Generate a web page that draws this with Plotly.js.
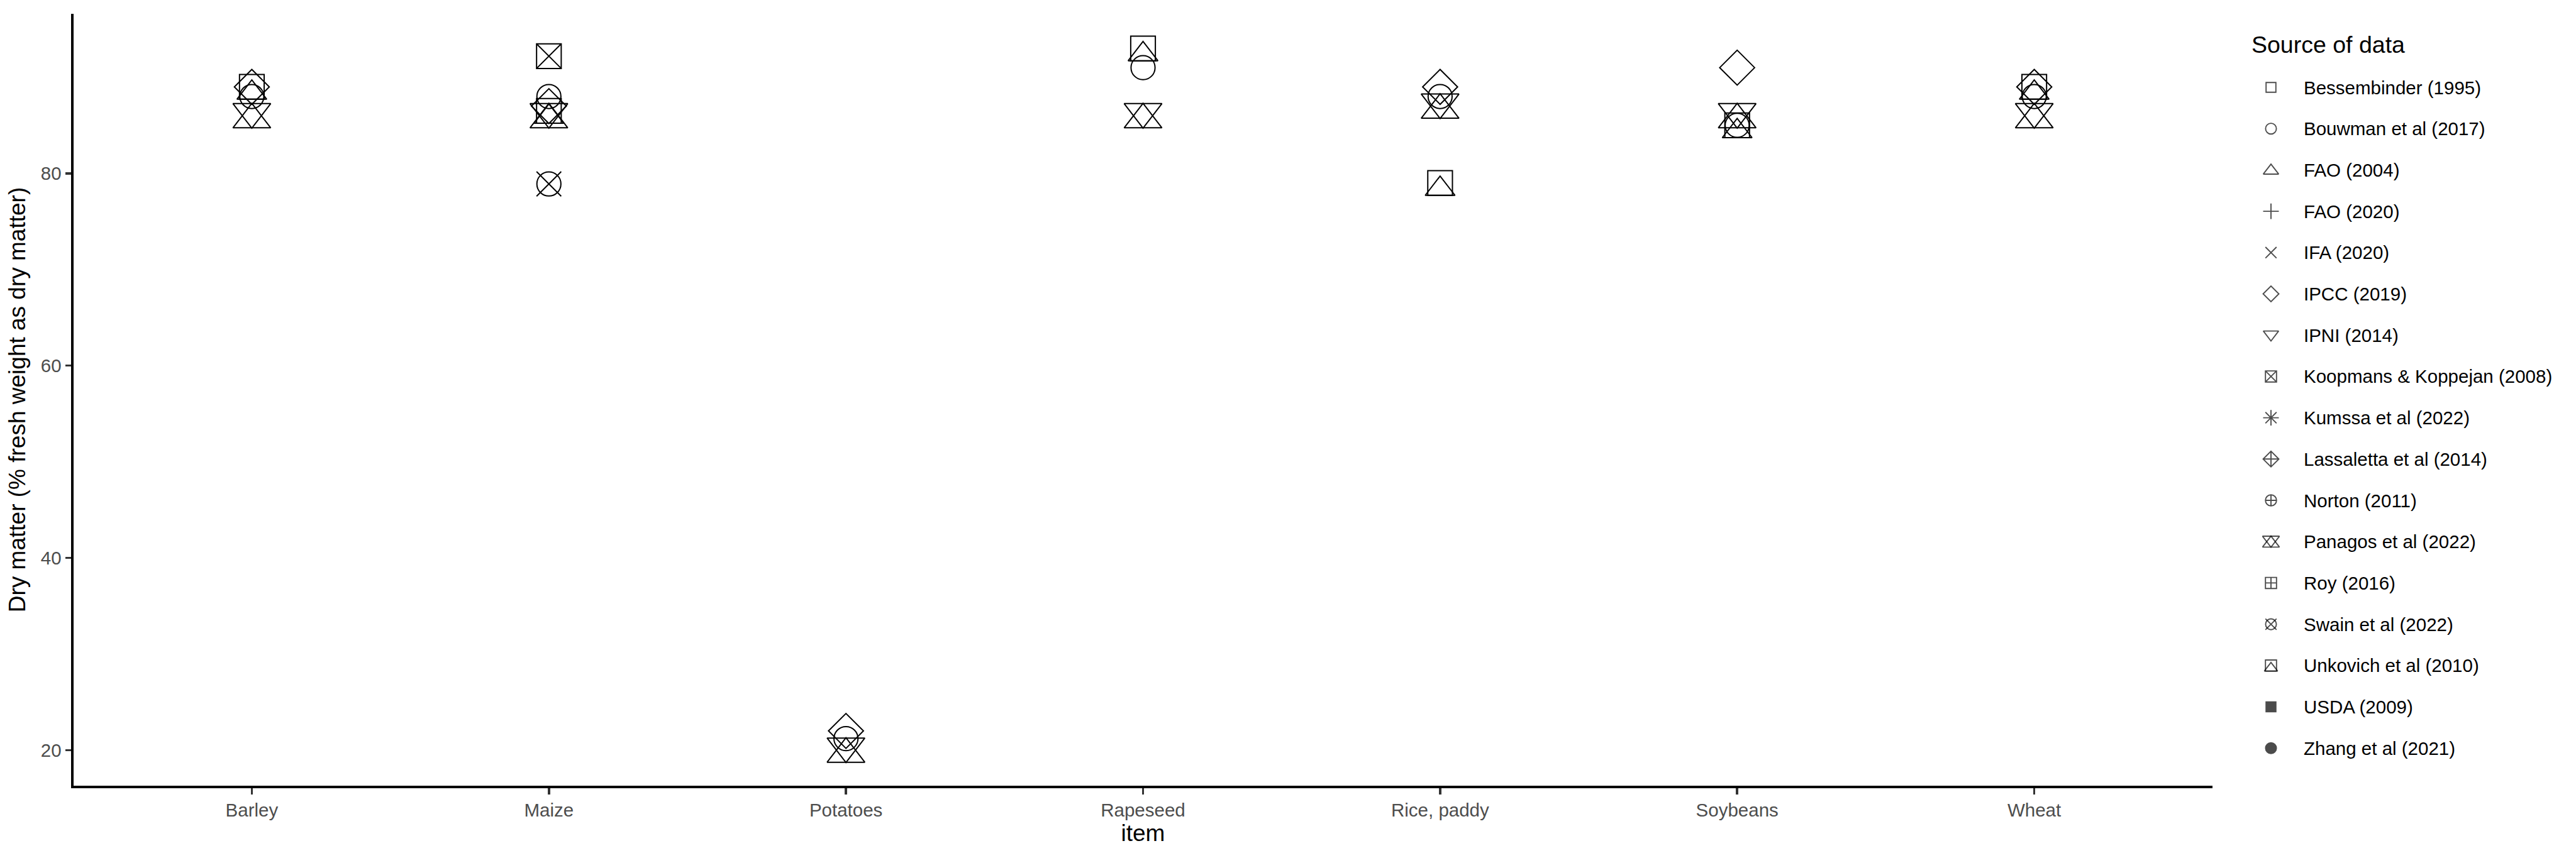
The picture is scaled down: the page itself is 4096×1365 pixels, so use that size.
<!DOCTYPE html>
<html>
<head>
<meta charset="utf-8">
<script src="https://cdn.plot.ly/plotly-3.0.1.min.js"></script>
<style>html,body{margin:0;padding:0;background:#fff;}#chart{width:4096px;height:1365px;}</style>
</head>
<body>
<div id="chart"></div>
<script>
// ---- data ----
const categories = ["Barley", "Maize", "Potatoes", "Rapeseed", "Rice, paddy", "Soybeans", "Wheat"];
const sources = ["Bessembinder (1995)", "Bouwman et al (2017)", "FAO (2004)", "FAO (2020)", "IFA (2020)",
  "IPCC (2019)", "IPNI (2014)", "Koopmans & Koppejan (2008)", "Kumssa et al (2022)", "Lassaletta et al (2014)",
  "Norton (2011)", "Panagos et al (2022)", "Roy (2016)", "Swain et al (2022)", "Unkovich et al (2010)",
  "USDA (2009)", "Zhang et al (2021)"];
const bouwman  = [88, 88, 21.2, 91, 88, 85, 88];
const ipcc     = [89, 87, 22, null, 89, 91, 89];
const panagos  = [86, 86, 20, 86, 87, 86, 86];
const unkovich = [89, 86.5, null, 93, 79, 85, 89];
const koopmans = [null, 92.2, null, null, null, null, null];
const swain    = [null, 78.9, null, null, null, null, null];
const yTicks = [20, 40, 60, 80];

const seriesValues = {
  "Bouwman et al (2017)": bouwman,
  "IPCC (2019)": ipcc,
  "Koopmans & Koppejan (2008)": koopmans,
  "Panagos et al (2022)": panagos,
  "Swain et al (2022)": swain,
  "Unkovich et al (2010)": unkovich
};

// ---- shapes (ggplot shape index = position in sources) ----
const shapeLayers = [
  [{s: 'square-open', z: 1.772}],
  [{s: 'circle-open', z: 1.95}],
  [{s: 'triangle-up-open', z: 2.4, o: 0.142}],
  [{s: 'cross-thin-open', z: 2.02}],
  [{s: 'x-thin-open', z: 2}],
  [{s: 'diamond-open', z: 2.18}],
  [{s: 'triangle-up-open', z: 2.4, o: 0.142, a: 180}],
  [{s: 'square-x-open', z: 2}],
  [{s: 'asterisk-open', z: 2.36}],
  [{s: 'diamond-cross-open', z: 2.18}],
  [{s: 'circle-cross-open', z: 2}],
  [{s: 'triangle-up-open', z: 2.65, o: 0.32}, {s: 'triangle-up-open', z: 2.65, o: 0.32, a: 180}],
  [{s: 'square-cross-open', z: 2}],
  [{s: 'circle-open', z: 1.95}, {s: 'x-thin-open', z: 2}],
  [{s: 'square-open', z: 2}, {s: 'triangle-up-open', z: 2.09, o: 0.478}],
  [{s: 'square', z: 1.772}],
  [{s: 'circle', z: 1.95}]
];

const R_MAIN = 19.6, R_LEG = 8.8, LW = 2;
const FONT = 'Liberation Sans, Arial, sans-serif';
const traces = [];

// main plot
sources.forEach(function (name, idx) {
  const vals = seriesValues[name];
  if (!vals) return;
  shapeLayers[idx].forEach(function (L) {
    traces.push({
      type: 'scatter', mode: 'markers', name: name, showlegend: false,
      x: categories, y: vals, xaxis: 'x', yaxis: 'y', cliponaxis: false,
      marker: {
        symbol: L.s, size: L.z * R_MAIN, angle: L.a || 0, standoff: (L.o || 0) * R_MAIN,
        color: '#000000', line: {color: '#000000', width: LW}
      },
      hoverinfo: 'x+y+name'
    });
  });
});

// legend (drawn on an auxiliary pixel axis)
const legY = sources.map(function (_, i) { return 139 + i * 65.7; });
const LEG_MX = 3611, LEG_TX = 3661;
[0, 1].forEach(function (layer) {
  const xs = [], ys = [], sym = [], sz = [], ang = [], so = [];
  sources.forEach(function (name, i) {
    const L = shapeLayers[i][layer];
    if (!L) return;
    xs.push(LEG_MX); ys.push(legY[i]); sym.push(L.s); sz.push(L.z * R_LEG);
    ang.push(L.a || 0); so.push((L.o || 0) * R_LEG);
  });
  traces.push({
    type: 'scatter', mode: 'markers', showlegend: false, hoverinfo: 'skip',
    x: xs, y: ys, xaxis: 'x2', yaxis: 'y2',
    marker: {symbol: sym, size: sz, angle: ang, standoff: so, color: '#000000',
      line: {color: '#000000', width: 1.9}}
  });
});

const annotations = sources.map(function (name, i) {
  return {xref: 'x2', yref: 'y2', x: LEG_TX, y: legY[i], text: name, showarrow: false,
    xanchor: 'left', yanchor: 'middle', font: {family: FONT, size: 29.5, color: '#000000'}};
});
annotations.push({xref: 'x2', yref: 'y2', x: 3578, y: 71, text: 'Source of data', showarrow: false,
  xanchor: 'left', yanchor: 'middle', font: {family: FONT, size: 37.5, color: '#000000'}});

const PW = 4096 - 117 - 10;
const layout = {
  width: 4096, height: 1365,
  margin: {l: 117, r: 10, t: 22, b: 115, pad: 0},
  paper_bgcolor: '#ffffff', plot_bgcolor: '#ffffff',
  showlegend: false,
  font: {family: FONT, color: '#000000'},
  xaxis: {
    domain: [0, 3401 / PW], type: 'category', categoryorder: 'array', categoryarray: categories,
    range: [-0.6, 6.6], showgrid: false, zeroline: false,
    showline: true, linecolor: '#000000', linewidth: 4,
    ticks: 'outside', ticklen: 9.5, tickwidth: 3.5, tickcolor: '#333333',
    tickfont: {family: FONT, size: 29.5, color: '#4D4D4D'},
    title: {text: 'item', font: {family: FONT, size: 37, color: '#000000'}, standoff: 6},
    automargin: false, fixedrange: true
  },
  yaxis: {
    range: [16.3, 96.6], tickmode: 'array', tickvals: yTicks, ticktext: yTicks.map(String),
    showgrid: false, zeroline: false,
    showline: true, linecolor: '#000000', linewidth: 4,
    ticks: 'outside', ticklen: 9.5, tickwidth: 3.5, tickcolor: '#333333',
    tickfont: {family: FONT, size: 29.5, color: '#4D4D4D'},
    title: {text: 'Dry matter (% fresh weight as dry matter)', font: {family: FONT, size: 37, color: '#000000'}, standoff: 14},
    automargin: false, fixedrange: true
  },
  xaxis2: {domain: [(3540 - 117) / PW, 1], range: [3540, 4086], anchor: 'y2', visible: false, fixedrange: true},
  yaxis2: {domain: [0, 1], range: [1250, 22], anchor: 'x2', visible: false, fixedrange: true},
  annotations: annotations
};

Plotly.newPlot('chart', traces, layout, {staticPlot: true, displayModeBar: false});
</script>
</body>
</html>
